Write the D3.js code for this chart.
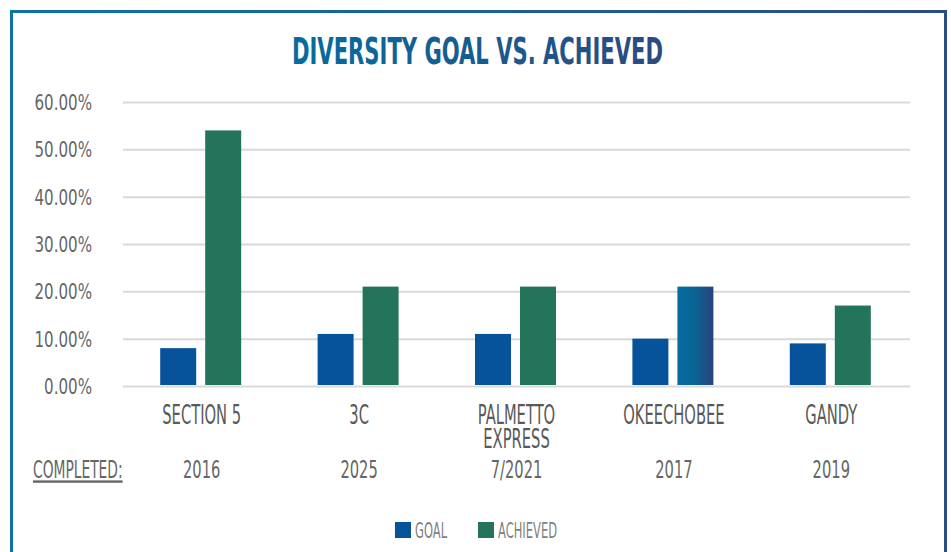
<!DOCTYPE html>
<html>
<head>
<meta charset="utf-8">
<script src="https://cdn.jsdelivr.net/npm/d3@7"></script>
<style>
  body { margin: 0; background: #fff; }
  svg { display: block; }
</style>
</head>
<body>
<script>
var categories = ["SECTION 5", "3C", "PALMETTO EXPRESS", "OKEECHOBEE", "GANDY"];
var categoryLines = [["SECTION 5"], ["3C"], ["PALMETTO", "EXPRESS"], ["OKEECHOBEE"], ["GANDY"]];
var completed = ["2016", "2025", "7/2021", "2017", "2019"];
var series = ["GOAL", "ACHIEVED"];
var goal = [0.08, 0.11, 0.11, 0.10, 0.09];
var achieved = [0.54, 0.21, 0.21, 0.21, 0.17];
var yTicks = [0, 0.1, 0.2, 0.3, 0.4, 0.5, 0.6];

var width = 951, height = 552;
var margin = { top: 102, right: 41, bottom: 166, left: 123 };
var narrow = "'Liberation Sans Narrow', 'DejaVu Sans Condensed', 'Roboto', sans-serif";
var colors = { GOAL: "#06529b", ACHIEVED: "#23745a" };

var svg = d3.select("body").append("svg")
    .attr("width", width)
    .attr("height", height);

var defs = svg.append("defs");
var frameGrad = defs.append("linearGradient").attr("id", "frameGrad")
    .attr("x1", "0%").attr("x2", "100%").attr("y1", "0%").attr("y2", "0%");
frameGrad.append("stop").attr("offset", "0%").attr("stop-color", "#0b74a8");
frameGrad.append("stop").attr("offset", "100%").attr("stop-color", "#2c4c85");

var titleGrad = defs.append("linearGradient").attr("id", "titleGrad")
    .attr("x1", "0%").attr("x2", "100%").attr("y1", "0%").attr("y2", "0%");
titleGrad.append("stop").attr("offset", "0%").attr("stop-color", "#056c9e");
titleGrad.append("stop").attr("offset", "100%").attr("stop-color", "#2b4a80");

var barGrad = defs.append("linearGradient").attr("id", "barGrad")
    .attr("x1", "0%").attr("x2", "100%").attr("y1", "0%").attr("y2", "0%");
barGrad.append("stop").attr("offset", "0%").attr("stop-color", "#046d9f");
barGrad.append("stop").attr("offset", "45%").attr("stop-color", "#0a6597");
barGrad.append("stop").attr("offset", "100%").attr("stop-color", "#29447a");

svg.append("rect")
    .attr("width", width).attr("height", height)
    .attr("fill", "#fff");

// frame (runs off the bottom)
svg.append("rect")
    .attr("x", 11.5).attr("y", 11.5)
    .attr("width", 934).attr("height", 600)
    .attr("fill", "none")
    .attr("stroke", "url(#frameGrad)")
    .attr("stroke-width", 3);

svg.append("text")
    .attr("x", 477.5).attr("y", 64)
    .attr("text-anchor", "middle")
    .attr("font-family", narrow)
    .attr("font-weight", "bold")
    .attr("font-size", 37)
    .attr("textLength", 371)
    .attr("lengthAdjust", "spacingAndGlyphs")
    .attr("fill", "url(#titleGrad)")
    .text("DIVERSITY GOAL VS. ACHIEVED");

var x0 = d3.scaleBand()
    .domain(categories)
    .range([margin.left, width - margin.right]);

var x1 = d3.scaleBand()
    .domain(series)
    .range([0, 81])
    .paddingInner(0.2);

var y = d3.scaleLinear()
    .domain([0, 0.6])
    .range([height - margin.bottom, margin.top]);

var ySx = 0.8;
var yAxis = svg.append("g")
    .attr("transform", "translate(" + margin.left + ",0)")
    .call(d3.axisLeft(y)
        .tickValues(yTicks)
        .tickFormat(d3.format(".2%"))
        .tickSize(-(width - margin.left - margin.right))
        .tickPadding(31));
yAxis.select(".domain").remove();
yAxis.selectAll(".tick line")
    .attr("stroke", "#d9d9d9")
    .attr("stroke-width", 2);
yAxis.selectAll(".tick text")
    .attr("font-family", narrow)
    .attr("font-size", 21)
    .attr("fill", "#666")
    .attr("x", -31 / ySx)
    .attr("transform", "scale(" + ySx + ",1)")
    .attr("dy", "0.36em");

var rows = categories.map(function(c, i) {
    return { cat: c, values: [
        { key: "GOAL", value: goal[i] },
        { key: "ACHIEVED", value: achieved[i] }
    ] };
});

var inset = (x0.bandwidth() - 81) / 2;

var group = svg.selectAll(".grp")
    .data(rows)
    .enter().append("g")
    .attr("class", "grp")
    .attr("transform", function(d) { return "translate(" + (x0(d.cat) + inset - 1) + ",0)"; });

group.selectAll("rect")
    .data(function(d) { return d.values.map(function(v) { return { cat: d.cat, key: v.key, value: v.value }; }); })
    .enter().append("rect")
    .attr("x", function(d) { return x1(d.key); })
    .attr("y", function(d) { return y(d.value); })
    .attr("width", x1.bandwidth())
    .attr("height", function(d) { return y(0) - y(d.value) - 1; })
    .attr("fill", function(d) {
        if (d.cat == "OKEECHOBEE" && d.key == "ACHIEVED") return "url(#barGrad)";
        return colors[d.key];
    });

// category labels
var sx = 0.63;
categories.forEach(function(c, i) {
    var cx = x0(c) + x0.bandwidth() / 2;
    var t = svg.append("text")
        .attr("transform", "translate(" + cx + ",424) scale(" + sx + ",1)")
        .attr("text-anchor", "middle")
        .attr("font-family", narrow)
        .attr("font-size", 26)
        .attr("fill", "#595959");
    categoryLines[i].forEach(function(line, j) {
        t.append("tspan")
            .attr("x", 0)
            .attr("dy", j == 0 ? 0 : 24)
            .text(line);
    });
    svg.append("text")
        .attr("transform", "translate(" + cx + ",478) scale(0.68,1)")
        .attr("text-anchor", "middle")
        .attr("font-family", narrow)
        .attr("font-size", 24)
        .attr("fill", "#666")
        .text(completed[i]);
});

svg.append("text")
    .attr("transform", "translate(33,478) scale(0.64,1)")
    .attr("font-family", narrow)
    .attr("font-size", 24)
    .attr("fill", "#666")
    .attr("text-decoration", "underline")
    .text("COMPLETED:");

// legend
var legendX = [395, 478];
var legend = svg.selectAll(".lg")
    .data(series)
    .enter().append("g")
    .attr("class", "lg")
    .attr("transform", function(d, i) { return "translate(" + legendX[i] + ",522)"; });
legend.append("rect")
    .attr("width", 16).attr("height", 16)
    .attr("fill", function(d) { return colors[d]; });
legend.append("text")
    .attr("transform", "translate(20,16) scale(0.61,1)")
    .attr("font-family", narrow)
    .attr("font-size", 21)
    .attr("fill", "#7f7f7f")
    .text(function(d) { return d; });
</script>
</body>
</html>
